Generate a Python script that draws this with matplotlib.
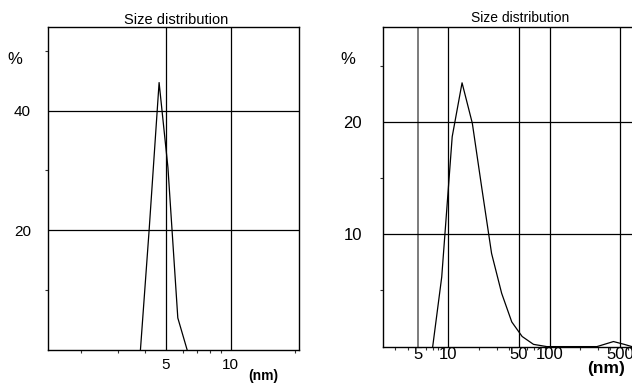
import matplotlib
matplotlib.use('Agg')
import matplotlib.pyplot as plt
from matplotlib.ticker import FixedLocator, NullFormatter, FixedFormatter

plt.rcParams['font.family'] = ['Liberation Sans', 'DejaVu Sans']

# left panel: size distribution, narrow peak near 5 nm
left_size = [3.8, 4.17, 4.64, 5.1, 5.67, 6.26]
left_pct = [0.0, 20.0, 44.7, 30.5, 5.3, 0.0]
left_xticks = [5, 10]
left_yticks = [20, 40]

# right panel: broader distribution, small bump near 500 nm
right_size = [7.03, 8.63, 10.95, 13.7, 17.3, 21.4, 26.8, 33.7, 42.4, 53.7,
              69.5, 94, 294, 428, 547, 650]
right_pct = [0.0, 6.2, 18.7, 23.5, 19.9, 14.2, 8.3, 4.75, 2.2, 0.9,
             0.2, 0.0, 0.0, 0.45, 0.2, 0.0]
right_xticks = [5, 10, 50, 100, 500]
right_yticks = [10, 20]

W, H = 632, 383
fig = plt.figure(figsize=(W / 100, H / 100), dpi=100)


def px_axes(x0, y0, x1, y1):
    # pixel box (top-left origin) -> figure fraction
    return fig.add_axes([x0 / W, 1 - y1 / H, (x1 - x0) / W, (y1 - y0) / H])


def style(ax, xticks, yticks, minor_y, xpad, ypad):
    ax.set_xscale('log')
    for v in xticks:
        ax.axvline(v, color='black', lw=0.9, zorder=1)
    for v in yticks:
        ax.axhline(v, color='black', lw=0.9, zorder=1)
    ax.xaxis.set_major_locator(FixedLocator(xticks))
    ax.xaxis.set_major_formatter(FixedFormatter([str(v) for v in xticks]))
    ax.xaxis.set_minor_formatter(NullFormatter())
    ax.yaxis.set_major_locator(FixedLocator(yticks))
    ax.yaxis.set_minor_locator(FixedLocator(minor_y))
    ax.tick_params(which='both', direction='out', length=2.5, width=0.8,
                   labelsize=11, color='#333333')
    ax.tick_params(axis='x', which='major', length=0, pad=xpad)
    ax.tick_params(axis='y', which='major', length=0, pad=ypad)
    for s in ax.spines.values():
        s.set_linewidth(1.0)
        s.set_color('black')


# left
ax1 = px_axes(47.7, 27, 298.7, 349.6)
ax1.plot(left_size, left_pct, color='black', lw=0.9, zorder=3)
ax1.set_xlim(1.407, 20.7)
ax1.set_ylim(0, 54)
style(ax1, left_xticks, left_yticks, [10, 30, 50], xpad=6, ypad=12)
fig.text(176 / W, 1 - 20 / H, 'Size distribution', fontsize=10.5,
         ha='center', va='center')

# right (cut off at the figure edge)
ax2 = px_axes(382.7, 26.7, 650.8, 346.6)
ax2.plot(right_size, right_pct, color='black', lw=0.9, zorder=3)
ax2.set_xlim(2.256, 1000)
ax2.set_ylim(0, 28.5)
style(ax2, right_xticks, right_yticks, [5, 15, 25], xpad=0, ypad=15)
ax2.get_lines()[1].set_color('#666666')
ax2.get_lines()[1].set_linewidth(1.2)
ax2.tick_params(axis='x', which='major', labelsize=12)
ax2.tick_params(axis='y', which='major', labelsize=12)
fig.text(520 / W, 1 - 18 / H, 'Size distribution', fontsize=10,
         ha='center', va='center')

fig.text(15 / W, 1 - 59 / H, '%', fontsize=12, ha='center', va='center')
fig.text(348 / W, 1 - 59 / H, '%', fontsize=12, ha='center', va='center')
fig.text(263 / W, 1 - 376 / H, '(nm)', fontsize=10, fontweight='bold',
         ha='center', va='center')
fig.text(606 / W, 1 - 368 / H, '(nm)', fontsize=12.5, fontweight='bold',
         ha='center', va='center')

fig.savefig('out.png', dpi=100)
